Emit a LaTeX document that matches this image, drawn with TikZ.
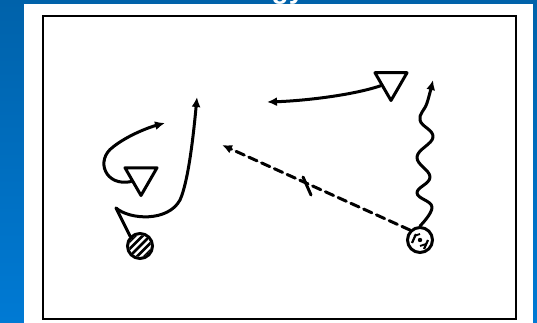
\documentclass[tikz,border=0pt]{standalone}
\usepackage{fontspec}
\setmainfont{Liberation Sans}
\usetikzlibrary{arrows.meta,shapes.geometric}
\definecolor{bgtop}{RGB}{0,98,170}
\definecolor{bgbot}{RGB}{0,122,212}
\tikzset{
  ink/.style={line width=3pt, line cap=round, line join=round},
  arr/.style={ink, -{Latex[length=10pt,width=9pt]}},
  tri/.style={draw, line width=3pt, line join=round, regular polygon, regular polygon sides=3,
    shape border rotate=180, minimum size=37pt, inner sep=0pt},
  ball/.style={draw, line width=3pt, circle, minimum size=25pt, inner sep=0pt},
  hatch/.style={line width=2.6pt},
}
\begin{document}
\begin{tikzpicture}[x=1pt,y=-1pt]
\useasboundingbox (0,0) rectangle (537,323);
\shade[top color=bgtop,bottom color=bgbot] (0,0) rectangle (537,323);
\fill[white] (24,4) rectangle (533,323);
\begin{scope}
  \clip (0,0) rectangle (537,4);
  \node[white, font=\bfseries\fontsize{28}{30}\selectfont, anchor=base, inner sep=0pt] (title) at (288,-1) {gy};
\end{scope}
\draw[line width=2.4pt] (43,16) rectangle (516,319);

\node[tri] (t1) at (141,177) {};
\node[tri] (t2) at (391,82) {};
\node[ball] (b1) at (140,246) {};
\node[ball] (b2) at (420,240) {};

% hatching of left ball
\begin{scope}
  \clip (b1.center) circle (11pt);
  \foreach \d in {-15,-7.5,0,7.5,15}
    \draw[hatch] ([shift={(\d,0)}]b1.center) ++(-14,14) -- ++(28,-28);
\end{scope}
% marks of right ball
\fill (b2.center) circle (2.2pt);
\draw[line width=2.2pt] ([shift={(-8,3)}]b2.center) -- ++(4,-9);
\draw[line width=2.2pt] ([shift={(4,9)}]b2.center) -- ++(4,-9);
\draw[line width=1.8pt] ([shift={(-6,-4)}]b2.center) -- ++(6,-2);
\draw[line width=1.8pt] ([shift={(0,6)}]b2.center) -- ++(6,-2);

% left J-shaped run
\coordinate (hook) at (116,208);
\draw[ink] (b1.north west) -- (hook);
\draw[arr] (hook) .. controls (130,220) and (168,222) .. (180,200)
  .. controls (188,182) and (193,140) .. (197,97);

% loop round the left triangle
\draw[arr] (t1.205) .. controls (105,187) and (95,160) .. (113,147)
  .. controls (128,135) and (150,127) .. (165,123);

% pass from the top triangle
\coordinate (topend) at (267,102);
\draw[arr] (t2.200) .. controls (350,96) and (300,101) .. (topend);

% dashed pass with tick
\coordinate (dashend) at (222,145);
\coordinate (tick) at (307,186);
\draw[arr, dash pattern=on 9pt off 5pt] (b2.north west) -- (dashend);
\draw[ink] ([shift={(-4,-9)}]tick) -- ([shift={(4,9)}]tick);

% wavy dribble
\coordinate (waveend) at (433,80);
\draw[arr] plot[smooth, tension=0.7] coordinates {(b2.north) (432,207) (417,193) (430,177) (417,157) (433,137) (420,120) (427,103) (waveend)};
\end{tikzpicture}
\end{document}
